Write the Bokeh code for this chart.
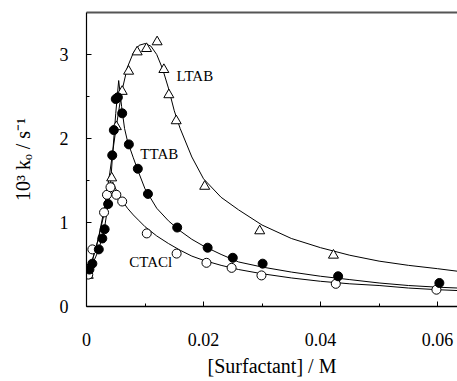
from bokeh.plotting import figure
from bokeh.models import Range1d, LinearAxis, FixedTicker, Label, Title
from bokeh.embed import file_html
from bokeh.resources import INLINE

# measured data points
ltab_x = [0.0003, 0.0043, 0.0051, 0.0061, 0.0072, 0.00866, 0.01026, 0.01207, 0.01322, 0.01407, 0.01533, 0.0202, 0.0296, 0.0422]
ltab_y = [0.37, 1.53, 2.14, 2.56, 2.80, 3.03, 3.07, 3.15, 2.82, 2.52, 2.21, 1.43, 0.90, 0.61]

ttab_x = [0.0005, 0.001, 0.0021, 0.0027, 0.0031, 0.0037, 0.0044, 0.00467, 0.0050, 0.00536, 0.0061, 0.00724, 0.00877, 0.0105, 0.0155, 0.0207, 0.0250, 0.0301, 0.0430, 0.0603]
ttab_y = [0.44, 0.51, 0.68, 0.81, 0.92, 1.22, 1.80, 2.10, 2.47, 2.49, 2.30, 1.93, 1.64, 1.34, 0.94, 0.70, 0.58, 0.51, 0.36, 0.28]

ctacl_x = [0.0003, 0.001, 0.0030, 0.0035, 0.0041, 0.0051, 0.0061, 0.0103, 0.0154, 0.0205, 0.0248, 0.0299, 0.0426, 0.0598]
ctacl_y = [0.38, 0.68, 1.12, 1.33, 1.42, 1.33, 1.25, 0.87, 0.63, 0.52, 0.46, 0.37, 0.27, 0.20]

# fitted curves
ltab_fit_x = [0, 0.001, 0.002, 0.003, 0.004, 0.005, 0.006, 0.007, 0.008, 0.009, 0.010, 0.011, 0.012, 0.013, 0.014, 0.015, 0.016, 0.018, 0.020, 0.023, 0.026, 0.030, 0.035, 0.040, 0.045, 0.050, 0.055, 0.060, 0.0634]
ltab_fit_y = [0.38, 0.55, 0.80, 1.15, 1.60, 2.10, 2.55, 2.85, 3.02, 3.11, 3.13, 3.10, 3.00, 2.83, 2.60, 2.33, 2.12, 1.78, 1.52, 1.30, 1.15, 0.97, 0.81, 0.70, 0.61, 0.54, 0.49, 0.45, 0.42]

ttab_fit_x = [0, 0.001, 0.002, 0.003, 0.004, 0.0045, 0.005, 0.0055, 0.006, 0.0065, 0.007, 0.008, 0.009, 0.010, 0.012, 0.014, 0.016, 0.018, 0.020, 0.023, 0.026, 0.030, 0.035, 0.040, 0.045, 0.050, 0.055, 0.060, 0.0634]
ttab_fit_y = [0.38, 0.50, 0.66, 0.90, 1.35, 1.85, 2.30, 2.69, 2.38, 2.12, 1.97, 1.77, 1.58, 1.40, 1.17, 1.02, 0.90, 0.80, 0.72, 0.62, 0.53, 0.47, 0.41, 0.36, 0.32, 0.28, 0.25, 0.23, 0.22]

ctacl_fit_x = [0, 0.001, 0.002, 0.003, 0.004, 0.0045, 0.005, 0.006, 0.007, 0.008, 0.009, 0.010, 0.012, 0.014, 0.016, 0.018, 0.020, 0.023, 0.026, 0.030, 0.035, 0.040, 0.045, 0.050, 0.055, 0.060, 0.0634]
ctacl_fit_y = [0.38, 0.55, 0.80, 1.10, 1.40, 1.48, 1.40, 1.27, 1.17, 1.09, 1.02, 0.95, 0.84, 0.75, 0.67, 0.60, 0.55, 0.49, 0.44, 0.39, 0.34, 0.30, 0.27, 0.25, 0.22, 0.20, 0.19]

x_ticks = [0, 0.02, 0.04, 0.06]
x_tick_labels = {0: "0", 0.02: "0.02", 0.04: "0.04", 0.06: "0.06"}
y_ticks = [0, 1, 2, 3]

series_labels = ["LTAB", "TTAB", "CTACl"]
label_x = [0.0154, 0.0092, 0.0073]
label_y = [2.75, 1.82, 0.53]

x_title = "[Surfactant] / M"
y_title = "10³ k\u2092 / s\u207b\u00b9"

FONT = "Liberation Serif"

p = figure(width=457, height=381, output_backend="svg", toolbar_location=None,
           x_range=Range1d(0, 0.0634), y_range=Range1d(0, 3.5),
           min_border_left=86, min_border_right=0, min_border_top=12, min_border_bottom=75)
p.outline_line_color = None
p.grid.grid_line_color = None
p.background_fill_color = "white"

for ax in (p.xaxis[0], p.yaxis[0]):
    ax.axis_line_color = "black"
    ax.major_tick_line_color = "black"
    ax.minor_tick_line_color = "black"
    ax.major_tick_in = 5
    ax.major_tick_out = 0
    ax.minor_tick_in = 3
    ax.minor_tick_out = 0
    ax.major_label_text_font = FONT
    ax.major_label_text_font_size = "18px"
    ax.major_label_text_color = "black"
    ax.axis_label_text_font = FONT
    ax.axis_label_text_font_size = "20px"
    ax.axis_label_text_font_style = "normal"
    ax.axis_label_text_color = "black"

p.xaxis[0].axis_line_width = 1.5
p.yaxis[0].axis_line_width = 1.2
p.xaxis[0].ticker = FixedTicker(ticks=x_ticks, minor_ticks=[0.01, 0.03, 0.05])
p.xaxis[0].major_label_overrides = x_tick_labels
p.yaxis[0].ticker = FixedTicker(ticks=y_ticks, minor_ticks=[0.5, 1.5, 2.5])
p.yaxis[0].axis_label = y_title
p.xaxis[0].major_label_standoff = 26
p.yaxis[0].major_label_standoff = 18
p.yaxis[0].axis_label_standoff = 23

top = LinearAxis(ticker=FixedTicker(ticks=[]), major_label_text_font_size="0px",
                 axis_line_color="#555555", axis_line_width=2)
p.add_layout(top, "above")

for fx, fy in ((ltab_fit_x, ltab_fit_y), (ttab_fit_x, ttab_fit_y), (ctacl_fit_x, ctacl_fit_y)):
    p.line(fx, fy, line_color="black", line_width=1)

p.scatter(ltab_x, ltab_y, marker="triangle", size=10, fill_color="white", line_color="black", line_width=1)
p.scatter(ctacl_x, ctacl_y, marker="circle", size=9, fill_color="white", line_color="black", line_width=1)
p.scatter(ttab_x, ttab_y, marker="circle", size=9, fill_color="black", line_color="black", line_width=1)

for t, lx, ly in zip(series_labels, label_x, label_y):
    p.add_layout(Label(x=lx, y=ly, text=t, text_font=FONT, text_font_size="15px",
                       text_color="black", text_baseline="middle", text_align="left"))

# x-axis title placed below the axis
p.add_layout(Title(text=x_title, align="center", vertical_align="bottom", text_font=FONT,
                   text_font_size="20px", text_font_style="normal", text_color="black",
                   standoff=8, offset=0), "below")

open("out.html", "w").write(file_html(p, INLINE))
